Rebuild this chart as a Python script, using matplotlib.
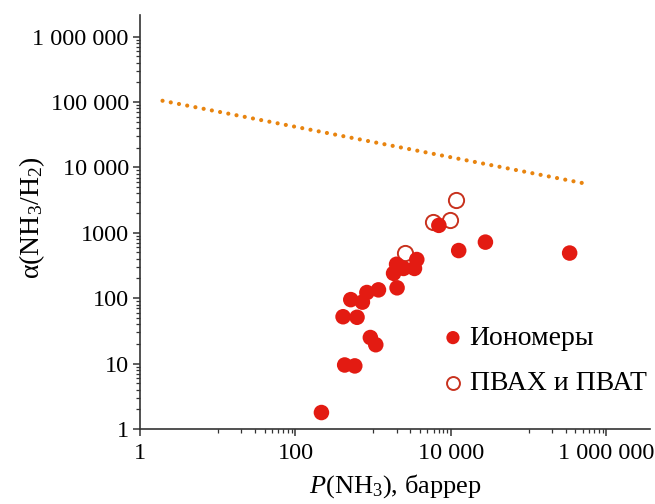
import matplotlib
matplotlib.use("Agg")
import matplotlib.pyplot as plt
from matplotlib.ticker import FixedLocator, FixedFormatter, NullFormatter

plt.rcParams['font.family'] = ['Liberation Serif', 'DejaVu Serif']
plt.rcParams['mathtext.fontset'] = 'custom'
plt.rcParams['mathtext.rm'] = 'Liberation Serif'
plt.rcParams['mathtext.it'] = 'Liberation Serif:italic'

# ionomers (filled)
ion_p = [216, 430, 580, 920, 1080, 410, 620, 515, 727, 830, 1170,
         2030, 1830, 2000, 2460, 3400, 3640, 7000, 12600, 27800, 337000]
ion_a = [1.78, 9.5, 9.2, 25, 19.4, 52, 51, 95, 87, 122, 134,
         144, 240, 330, 285, 285, 390, 1300, 535, 720, 490]

# PVAc / PVAT (open)
pva_p = [2560, 5900, 9800, 11500]
pva_a = [490, 1480, 1550, 3150]

# upper bound line ends
bound_p = [1.95, 520000]
bound_a = [104700, 5700]

y_ticks = [1, 10, 100, 1000, 1e4, 1e5, 1e6]
y_labels = ['1', '10', '100', '1000', '10 000', '100 000', '1 000 000']
x_ticks = [1, 100, 1e4, 1e6]
x_labels = ['1', '100', '10 000', '1 000 000']

fig = plt.figure(figsize=(6.55, 5.04), dpi=100)
ax = fig.add_axes([0.2137, 0.149, 0.7785, 0.821])

ax.plot(bound_p, bound_a, color='#e8840f', lw=3.0,
        linestyle=(0, (0.01, 2.0)), dash_capstyle='round', zorder=2)
ax.scatter(pva_p, pva_a, s=120, facecolors='white', edgecolors='#c8321e',
           linewidths=1.4, label='ПВАХ и ПВАТ', zorder=3)
ax.scatter(ion_p, ion_a, s=125, color='#e31b12', edgecolors='none',
           label='Иономеры', zorder=4)

ax.set_xscale('log')
ax.set_yscale('log')
ax.set_xlim(1, 10 ** 6.56)
ax.set_ylim(1, 10 ** 6.33)

for s in ['top', 'right']:
    ax.spines[s].set_visible(False)
for s in ['left', 'bottom']:
    ax.spines[s].set_color('#333333')
    ax.spines[s].set_linewidth(1.2)

ax.yaxis.set_major_locator(FixedLocator(y_ticks))
ax.yaxis.set_major_formatter(FixedFormatter(y_labels))
y_minor = [m * 10 ** d for d in range(6) for m in range(2, 10)]
ax.yaxis.set_minor_locator(FixedLocator(y_minor))
ax.yaxis.set_minor_formatter(NullFormatter())

ax.xaxis.set_major_locator(FixedLocator(x_ticks))
ax.xaxis.set_major_formatter(FixedFormatter(x_labels))
x_minor = [m * 10 ** d for d in (1, 3, 5) for m in range(1, 10)]
ax.xaxis.set_minor_locator(FixedLocator(x_minor))
ax.xaxis.set_minor_formatter(NullFormatter())

ax.tick_params(which='major', direction='out', length=5, width=1.1,
               color='#333333', labelsize=17.5, pad=3)
ax.tick_params(axis='x', which='major', pad=5)
ax.tick_params(which='minor', direction='out', length=3, width=0.9,
               color='#333333')

ax.set_xlabel('$P$(NH$_3$), баррер', fontsize=19, labelpad=6)
ax.set_ylabel('α(NH$_3$/H$_2$)', fontsize=20)
ax.yaxis.set_label_coords(-0.182, 0.51)

handles, labels = ax.get_legend_handles_labels()
ax.legend(handles[::-1], labels[::-1], loc='upper left',
          bbox_to_anchor=(0.592, 0.25), frameon=False, fontsize=20,
          handlelength=0.8, handletextpad=0.2, labelspacing=0.72,
          borderpad=0, borderaxespad=0, markerscale=0.85)

fig.savefig('out.png', dpi=100)
